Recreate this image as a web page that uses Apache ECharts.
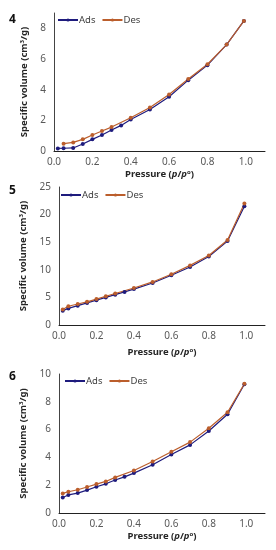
<!DOCTYPE html>
<html><head><meta charset="utf-8">
<script src="https://cdn.jsdelivr.net/npm/echarts@6/dist/echarts.min.js"></script>
<style>html,body{margin:0;padding:0;background:#fff}#c{width:276px;height:550px}</style>
</head><body><div id="c"></div>
<script>
// Panel 4
const pAds4 = [0.02,0.05,0.1,0.15,0.2,0.25,0.3,0.35,0.4,0.5,0.6,0.7,0.8,0.9,0.99];
const vAds4 = [0.17,0.18,0.2,0.46,0.76,1.04,1.37,1.67,2.06,2.71,3.54,4.62,5.6,6.94,8.48];
const pDes4 = [0.05,0.1,0.15,0.2,0.25,0.3,0.4,0.5,0.6,0.7,0.8,0.9,0.99];
const vDes4 = [0.48,0.56,0.76,1.04,1.3,1.56,2.17,2.84,3.69,4.69,5.66,6.94,8.48];
// Panel 5
const pAds5 = [0.02,0.05,0.1,0.15,0.2,0.25,0.3,0.35,0.4,0.5,0.6,0.7,0.8,0.9,0.99];
const vAds5 = [2.6,3.0,3.5,4.0,4.5,5.0,5.5,6.0,6.5,7.6,9.0,10.5,12.4,15.2,21.5];
const pDes5 = [0.02,0.05,0.1,0.15,0.2,0.25,0.3,0.4,0.5,0.6,0.7,0.8,0.9,0.99];
const vDes5 = [2.8,3.4,3.8,4.2,4.7,5.2,5.7,6.7,7.8,9.2,10.8,12.6,15.4,22.0];
// Panel 6
const pAds6 = [0.02,0.05,0.1,0.15,0.2,0.25,0.3,0.35,0.4,0.5,0.6,0.7,0.8,0.9,0.99];
const vAds6 = [1.12,1.3,1.43,1.65,1.89,2.1,2.37,2.6,2.87,3.47,4.21,4.9,5.9,7.1,9.26];
const pDes6 = [0.02,0.05,0.1,0.15,0.2,0.25,0.3,0.4,0.5,0.6,0.7,0.8,0.9,0.99];
const vDes6 = [1.41,1.53,1.67,1.87,2.08,2.27,2.56,3.06,3.71,4.4,5.1,6.1,7.25,9.3];
const xTicks = ['0.0','0.2','0.4','0.6','0.8','1.0'];
const panelLabels = ['4','5','6'];
const seriesNames = ['Ads','Des'];

const ADS = '#1e1b7d', DES = '#bb5e2c';
const FONT = 'Noto Sans';
const zip = (a,b) => a.map((v,i)=>[v,b[i]]);

const grids = [
  {left:54, top:13, width:211, height:138},
  {left:59, top:187, width:206, height:138},
  {left:59, top:374, width:206, height:139}
];
const yMax = [9,25,10], yInt = [2,5,2];
const xNameGap = [18,22,18], yNameGap = [17,24,24];
const data = [
  [zip(pAds4,vAds4), zip(pDes4,vDes4)],
  [zip(pAds5,vAds5), zip(pDes5,vDes5)],
  [zip(pAds6,vAds6), zip(pDes6,vDes6)]
];
const legendPos = [{left:57,top:15},{left:60,top:190},{left:64,top:376}];
const labelY = [14,185,371];

const rich = {
  b:{fontFamily:FONT,fontSize:9.5,fontWeight:'bold',color:'#262626'},
  i:{fontFamily:FONT,fontSize:9.5,fontWeight:'bold',fontStyle:'italic',color:'#262626'},
  s:{fontFamily:FONT,fontSize:6,fontWeight:'bold',color:'#262626',verticalAlign:'top'}
};

const xAxis = [], yAxis = [], series = [], legend = [], graphic = [];
grids.forEach((g,k)=>{
  xAxis.push({type:'value', gridIndex:k, min:0, max:1.1, interval:0.2,
    name:'{b|Pressure (}{i|p}{b|/}{i|p}{s|o}{b|)}', nameLocation:'middle', nameGap:xNameGap[k],
    nameTextStyle:{rich},
    axisLine:{show:true,lineStyle:{color:'#222',width:1}}, axisTick:{show:false}, splitLine:{show:false},
    axisLabel:{fontFamily:FONT,fontSize:10,color:'#595959',margin:6,
      formatter:v=>{const t=xTicks.indexOf(v.toFixed(1)); return (t>=0 && Math.abs(v*5-Math.round(v*5))<1e-6)?xTicks[t]:'';}}
  });
  yAxis.push({type:'value', gridIndex:k, min:0, max:yMax[k], interval:yInt[k],
    name:'{b|Specific volume (cm}{s|3}{b|/g)}', nameLocation:'middle', nameGap:yNameGap[k], nameRotate:90,
    nameTextStyle:{rich},
    axisLine:{show:true,lineStyle:{color:'#444',width:1}}, axisTick:{show:false}, splitLine:{show:false},
    axisLabel:{fontFamily:FONT,fontSize:10,color:'#595959',margin:8,
      formatter:v=>(Math.abs(v/yInt[k]-Math.round(v/yInt[k]))<1e-6)?String(v):''}
  });
  [ADS,DES].forEach((c,j)=>{
    series.push({type:'line', name:seriesNames[j], xAxisIndex:k, yAxisIndex:k, data:data[k][j],
      symbol:'circle', symbolSize:4, showSymbol:true,
      lineStyle:{color:c,width:1.2}, itemStyle:{color:c}, animation:false});
  });
  legend.push({data:seriesNames, left:legendPos[k].left, top:legendPos[k].top, orient:'horizontal',
    itemWidth:20, itemHeight:4, itemGap:6, padding:0,
    textStyle:{fontFamily:FONT,fontSize:9.5,color:'#404040',padding:[0,0,0,-4]}});
  graphic.push({type:'text', left:9, top:labelY[k],
    style:{text:panelLabels[k], fontFamily:FONT, fontSize:12, fontWeight:'bold', fill:'#111'}});
});

const chart = echarts.init(document.getElementById('c'), null, {renderer:'canvas'});
chart.setOption({animation:false, grid:grids, xAxis, yAxis, series, legend, graphic});
</script></body></html>
